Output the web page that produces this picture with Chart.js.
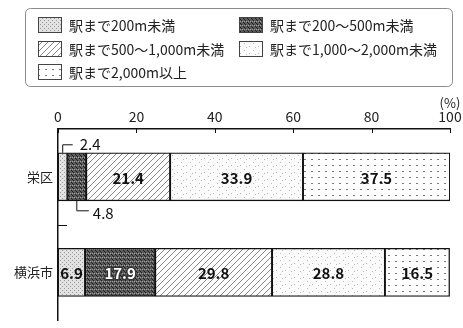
<!DOCTYPE html>
<html>
<head>
<meta charset="utf-8">
<script src="https://cdn.jsdelivr.net/npm/chart.js@4"></script>
<style>
  html, body { margin: 0; padding: 0; background: #fff; overflow: hidden; }
  #wrap { width: 463px; height: 328px; overflow: hidden; }
</style>
</head>
<body>
<div id="wrap"><canvas id="chart" width="463" height="333"></canvas></div>
<script>
// 駅までの距離別 割合 (%)
const areas = ["栄区", "横浜市"];
const seriesLabels = ["駅まで200m未満", "駅まで200～500m未満", "駅まで500～1,000m未満", "駅まで1,000～2,000m未満", "駅まで2,000m以上"];
const under200 = [2.4, 6.9];
const from200to500 = [4.8, 17.9];
const from500to1000 = [21.4, 29.8];
const from1000to2000 = [33.9, 28.8];
const over2000 = [37.5, 16.5];
const xTicks = [0, 20, 40, 60, 80, 100];

const FONT = '"Noto Sans CJK JP", "Noto Sans", sans-serif';

// 白黒の網掛けパターン
function makePattern(w, h, bg, draw) {
  const c = document.createElement("canvas");
  c.width = w; c.height = h;
  const g = c.getContext("2d");
  g.fillStyle = bg;
  g.fillRect(0, 0, w, h);
  draw(g);
  return g.createPattern(c, "repeat");
}
const patterns = [
  makePattern(4, 4, "#e2e2e2", g => {
    g.fillStyle = "#9a9a9a";
    g.fillRect(0, 0, 1, 1); g.fillRect(2, 2, 1, 1);
  }),
  makePattern(4, 4, "#5c5c5c", g => {
    g.fillStyle = "#1e1e1e";
    g.fillRect(1, 0, 1, 1); g.fillRect(3, 2, 1, 1); g.fillRect(0, 3, 1, 1);
    g.fillStyle = "#a0a0a0";
    g.fillRect(2, 1, 1, 1); g.fillRect(0, 1, 1, 1);
  }),
  makePattern(6, 6, "#ffffff", g => {
    g.strokeStyle = "#8a8a8a"; g.lineWidth = 1;
    g.beginPath(); g.moveTo(0, 6); g.lineTo(6, 0); g.stroke();
  }),
  makePattern(9, 7, "#fbfbfb", g => {
    g.fillStyle = "#b8b8b8";
    g.fillRect(1, 1, 1, 1); g.fillRect(6, 4, 1, 1); g.fillRect(3, 5, 1, 1);
  }),
  makePattern(7, 6, "#ffffff", g => {
    g.fillStyle = "#7a7a7a";
    g.fillRect(3, 3, 2, 1);
  })
];
const legendSwatches = patterns;

const values = [under200, from200to500, from500to1000, from1000to2000, over2000];

// 凡例（2列）
const legendBox = {
  id: "legendBox",
  afterDraw(chart) {
    const ctx = chart.ctx;
    ctx.save();
    ctx.strokeStyle = "#8c8c8c";
    ctx.lineWidth = 1;
    ctx.beginPath();
    ctx.roundRect(25.5, 8.5, 427, 78, 5);
    ctx.stroke();
    ctx.font = "14px " + FONT;
    ctx.textBaseline = "middle";
    ctx.fillStyle = "#222";
    const rowsY = [25, 49, 72];
    const colsX = [38, 239];
    seriesLabels.forEach((lab, i) => {
      const x = colsX[i % 2];
      const y = rowsY[Math.floor(i / 2)];
      ctx.fillStyle = legendSwatches[i];
      ctx.fillRect(x, y - 8, 24, 16);
      ctx.strokeStyle = "#444";
      ctx.strokeRect(x + 0.5, y - 7.5, 23, 15);
      ctx.fillStyle = "#222";
      ctx.fillText(lab, x + 31, y + 1);
    });
    ctx.restore();
  }
};

// 目盛り（内向き）、(%)、値ラベル
const extras = {
  id: "extras",
  afterDatasetsDraw(chart) {
    const ctx = chart.ctx;
    const xs = chart.scales.x, ys = chart.scales.y;
    const area = chart.chartArea;
    ctx.save();
    ctx.strokeStyle = "#111";
    ctx.lineWidth = 1;
    xTicks.forEach(v => {
      const px = Math.round(xs.getPixelForValue(v)) + 0.5;
      ctx.beginPath(); ctx.moveTo(px, area.top); ctx.lineTo(px, area.top + 4); ctx.stroke();
    });
    for (let i = 1; i < areas.length; i++) {
      const py = Math.round((ys.getPixelForValue(i - 1) + ys.getPixelForValue(i)) / 2) + 0.5;
      ctx.beginPath(); ctx.moveTo(area.left, py); ctx.lineTo(area.left + 9, py); ctx.stroke();
    }
    ctx.fillStyle = "#222";
    ctx.font = "13px " + FONT;
    ctx.textAlign = "center";
    ctx.textBaseline = "middle";
    ctx.fillText("(%)", xs.getPixelForValue(100), 103);

    // 値ラベル
    ctx.font = "bold 15px " + FONT;
    areas.forEach((a, j) => {
      let small = 0;
      values.forEach((arr, i) => {
        const bar = chart.getDatasetMeta(i).data[j];
        const v = arr[j];
        const txt = v.toFixed(1);
        const top = bar.y - bar.height / 2, bottom = bar.y + bar.height / 2;
        const cx = (bar.x + bar.base) / 2;
        if (v < 5) {
          ctx.font = "15px " + FONT;
          ctx.fillStyle = "#111";
          ctx.textAlign = "left";
          ctx.beginPath();
          if (small === 0) {
            ctx.moveTo(cx, top); ctx.lineTo(cx, top - 8); ctx.lineTo(cx + 10, top - 8);
            ctx.stroke();
            ctx.fillText(txt, cx + 17, top - 9);
          } else {
            ctx.moveTo(cx, bottom); ctx.lineTo(cx, bottom + 10); ctx.lineTo(cx + 12, bottom + 10);
            ctx.stroke();
            ctx.fillText(txt, cx + 16, bottom + 12);
          }
          small++;
          ctx.font = "bold 15px " + FONT;
          ctx.textAlign = "center";
        } else if (i === 1) {
          ctx.textAlign = "center";
          ctx.lineWidth = 3;
          ctx.strokeStyle = "#333";
          ctx.strokeText(txt, cx, bar.y + 1);
          ctx.fillStyle = "#fff";
          ctx.fillText(txt, cx, bar.y + 1);
          ctx.lineWidth = 1;
          ctx.strokeStyle = "#111";
        } else {
          ctx.textAlign = "center";
          ctx.fillStyle = "#111";
          ctx.fillText(txt, cx, bar.y + 1);
        }
      });
    });
    ctx.restore();
  }
};

new Chart(document.getElementById("chart"), {
  type: "bar",
  data: {
    labels: areas,
    datasets: values.map((arr, i) => ({
      label: seriesLabels[i],
      data: arr,
      backgroundColor: patterns[i],
      borderColor: "#111",
      borderWidth: 1.3,
      borderSkipped: false,
      barThickness: 48
    }))
  },
  options: {
    indexAxis: "y",
    responsive: false,
    animation: false,
    layout: { padding: { top: 95, right: 13, bottom: 1, left: 0 } },
    plugins: { legend: { display: false }, tooltip: { enabled: false } },
    scales: {
      x: {
        position: "top",
        stacked: true,
        min: 0, max: 100,
        afterBuildTicks: s => { s.ticks = xTicks.map(v => ({ value: v })); },
        afterFit: s => { s.height = 34; s.paddingLeft = 0; s.paddingRight = 0; },
        grid: { display: false, drawTicks: false },
        border: { display: true, color: "#111", width: 1.5 },
        ticks: { color: "#222", font: { family: FONT, size: 14 }, padding: 4 }
      },
      y: {
        stacked: true,
        afterFit: s => { s.width = 58; },
        grid: { display: false, drawTicks: false },
        border: { display: true, color: "#111", width: 1.5 },
        ticks: { color: "#222", font: { family: FONT, size: 13 }, padding: 5 }
      }
    }
  },
  plugins: [legendBox, extras]
});
</script>
</body>
</html>
